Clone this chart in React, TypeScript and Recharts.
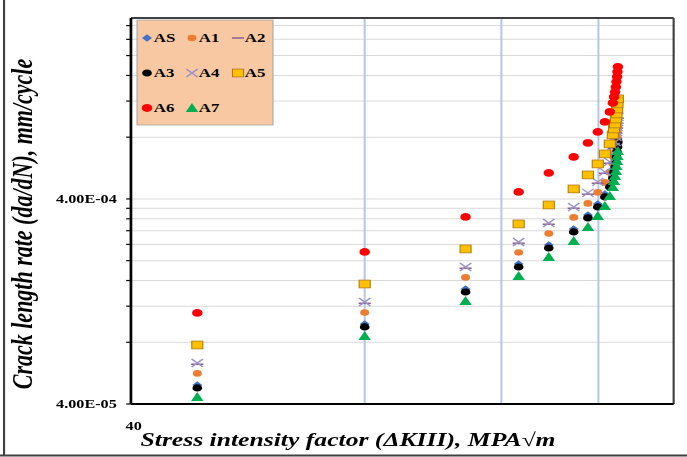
import {
  CartesianGrid,
  ReferenceLine,
  Scatter,
  ScatterChart,
  XAxis,
  YAxis,
} from "recharts";

// stress intensity factor, MPa√m (shared by all specimens)
const KIII = [48.7, 80.0, 107.9, 126.3, 138.1, 148.7, 155.1, 159.7, 163.1, 165.5, 167.0, 167.6, 168.1, 168.5, 168.8, 169.1, 169.3, 169.5];

// crack growth rate da/dN, mm/cycle
const AS = [4.95e-5, 9.82e-5, 1.456e-4, 1.928e-4, 2.386e-4, 2.856e-4, 3.343e-4, 3.782e-4, 4.232e-4, 4.735e-4, 5.239e-4, 5.604e-4, 5.927e-4, 6.268e-4, 6.633e-4, 7.017e-4, 7.422e-4, 7.85e-4];
const A1 = [5.64e-5, 1.118e-4, 1.657e-4, 2.193e-4, 2.715e-4, 3.25e-4, 3.804e-4, 4.304e-4, 4.816e-4, 5.388e-4, 5.961e-4, 6.377e-4, 6.742e-4, 7.132e-4, 7.546e-4, 7.982e-4, 8.445e-4, 8.931e-4];
const A2 = [6.25e-5, 1.239e-4, 1.837e-4, 2.432e-4, 3.01e-4, 3.603e-4, 4.218e-4, 4.771e-4, 5.339e-4, 5.974e-4, 6.609e-4, 7.07e-4, 7.475e-4, 7.907e-4, 8.368e-4, 8.852e-4, 9.363e-4, 9.902e-4];
const A3 = [4.79e-5, 9.5e-5, 1.407e-4, 1.863e-4, 2.306e-4, 2.761e-4, 3.232e-4, 3.656e-4, 4.091e-4, 4.577e-4, 5.064e-4, 5.417e-4, 5.729e-4, 6.059e-4, 6.412e-4, 6.782e-4, 7.174e-4, 7.587e-4];
const A4 = [6.34e-5, 1.258e-4, 1.864e-4, 2.468e-4, 3.055e-4, 3.657e-4, 4.281e-4, 4.843e-4, 5.419e-4, 6.063e-4, 6.708e-4, 7.176e-4, 7.586e-4, 8.026e-4, 8.493e-4, 8.984e-4, 9.503e-4, 1.005e-3];
const A5 = [7.76e-5, 1.539e-4, 2.281e-4, 3.02e-4, 3.738e-4, 4.475e-4, 5.238e-4, 5.926e-4, 6.631e-4, 7.42e-4, 8.208e-4, 8.781e-4, 9.283e-4, 9.821e-4, 1.039e-3, 1.099e-3, 1.163e-3, 1.23e-3];
const A6 = [1.112e-4, 2.205e-4, 3.268e-4, 4.327e-4, 5.356e-4, 6.411e-4, 7.505e-4, 8.49e-4, 9.5e-4, 1.063e-3, 1.176e-3, 1.258e-3, 1.33e-3, 1.407e-3, 1.489e-3, 1.575e-3, 1.666e-3, 1.762e-3];
const A7 = [4.33e-5, 8.58e-5, 1.272e-4, 1.684e-4, 2.085e-4, 2.495e-4, 2.921e-4, 3.304e-4, 3.697e-4, 4.137e-4, 4.577e-4, 4.896e-4, 5.178e-4, 5.476e-4, 5.795e-4, 6.13e-4, 6.484e-4, 6.858e-4];

const X_DOMAIN = [40, 200];
const X_TICKS = [40, 80, 120, 160, 200];
const X_LABELED = [40];
const X_GRID = [80, 120, 160];
const Y_DOMAIN = [4e-5, 3.05e-3];
const Y_TICKS = [4e-5, 8e-5, 1.2e-4, 1.6e-4, 2e-4, 2.4e-4, 2.8e-4, 3.2e-4, 3.6e-4, 4e-4, 8e-4, 1.2e-3, 1.6e-3, 2e-3, 2.4e-3, 2.8e-3];
const Y_LABELED = [4e-5, 4e-4];

// the source image is stretched horizontally, so draw narrow and scale
const SX = 1.35;
const W = 509;
const H = 457;
const FONT = "'Liberation Serif', 'Times New Roman', serif";

const pts = (ys: number[]) => KIII.map((x, i) => ({ x, y: ys[i] }));

const sci = (v: number) => {
  const [m, e] = v.toExponential(2).split("e");
  const n = parseInt(e, 10);
  return `${m}E${n < 0 ? "-" : "+"}${String(Math.abs(n)).padStart(2, "0")}`;
};

type P = { cx: number; cy: number };
const Diamond = ({ cx, cy }: P) => (
  <polygon points={`${cx},${cy - 3.7} ${cx + 3.7},${cy} ${cx},${cy + 3.7} ${cx - 3.7},${cy}`} fill="#4472C4" />
);
const Orange = ({ cx, cy }: P) => <circle cx={cx} cy={cy} r={3.3} fill="#ED7D31" />;
const Dash = ({ cx, cy }: P) => (
  <line x1={cx - 4.5} y1={cy} x2={cx + 4.5} y2={cy} stroke="#8E5E8E" strokeWidth={1.5} />
);
const Black = ({ cx, cy }: P) => <circle cx={cx} cy={cy} r={3.6} fill="#000" />;
const Cross = ({ cx, cy }: P) => (
  <g stroke="#9C93C4" strokeWidth={1.3}>
    <line x1={cx - 4.2} y1={cy - 4} x2={cx + 4.2} y2={cy + 4} />
    <line x1={cx - 4.2} y1={cy + 4} x2={cx + 4.2} y2={cy - 4} />
  </g>
);
const Square = ({ cx, cy }: P) => (
  <rect x={cx - 4.1} y={cy - 3.9} width={8.2} height={7.8} fill="#FFC000" stroke="#B07A10" strokeWidth={0.8} />
);
const Red = ({ cx, cy }: P) => <circle cx={cx} cy={cy} r={3.9} fill="#FF0000" />;
const Tri = ({ cx, cy }: P) => (
  <polygon points={`${cx},${cy - 5} ${cx + 4.6},${cy + 4} ${cx - 4.6},${cy + 4}`} fill="#00B050" />
);

const SERIES = [
  { name: "AS", data: AS, M: Diamond },
  { name: "A1", data: A1, M: Orange },
  { name: "A2", data: A2, M: Dash },
  { name: "A3", data: A3, M: Black },
  { name: "A4", data: A4, M: Cross },
  { name: "A5", data: A5, M: Square },
  { name: "A6", data: A6, M: Red },
  { name: "A7", data: A7, M: Tri },
];

const LEGEND_POS = [
  [108.9, 38], [142.2, 38], [176.3, 38],
  [108.9, 73], [142.2, 73], [176.3, 73],
  [108.9, 108], [142.2, 108],
];

const YTick = ({ x, y, payload }: any) =>
  Y_LABELED.includes(payload.value) ? (
    <text x={x} y={y} dy={4} textAnchor="end" fontFamily={FONT} fontWeight="bold" fontSize={12} fill="#000">
      {sci(payload.value)}
    </text>
  ) : (
    <g />
  );

const XTick = ({ x, y, payload }: any) =>
  X_LABELED.includes(payload.value) ? (
    <text x={x + 2} y={y + 26} textAnchor="middle" fontFamily={FONT} fontWeight="bold" fontSize={12} fill="#000">
      {payload.value}
    </text>
  ) : (
    <g />
  );

export default function App() {
  return (
    <div style={{ position: "absolute", left: 0, top: 0, width: 687, height: 457, background: "#fff", overflow: "hidden" }}>
      <div style={{ position: "relative", width: W, height: H, transform: `scaleX(${SX})`, transformOrigin: "0 0" }}>
        <ScatterChart width={W} height={H} margin={{ top: 18, right: 10, bottom: 23, left: 0 }}>
          <CartesianGrid vertical={false} stroke="#d9d9d9" />
          {X_GRID.map((g) => (
            <ReferenceLine key={g} x={g} stroke="#b4c7e7" strokeWidth={1.5} />
          ))}
          <ReferenceLine y={Y_DOMAIN[1]} stroke="#404040" strokeWidth={2} />
          <ReferenceLine x={X_DOMAIN[1]} stroke="#404040" strokeWidth={1.6} />
          <XAxis
            type="number"
            dataKey="x"
            scale="log"
            domain={X_DOMAIN}
            allowDataOverflow
            ticks={X_TICKS}
            interval={0}
            tick={<XTick />}
            tickLine={false}
            tickSize={0}
            tickMargin={0}
            height={30}
            axisLine={{ stroke: "#000", strokeWidth: 2 }}
          />
          <YAxis
            type="number"
            dataKey="y"
            scale="log"
            domain={Y_DOMAIN}
            allowDataOverflow
            ticks={Y_TICKS}
            interval={0}
            tick={<YTick />}
            tickSize={3.5}
            tickMargin={7}
            tickLine={{ stroke: "#000", strokeWidth: 1.2 }}
            width={97}
            axisLine={{ stroke: "#000", strokeWidth: 2 }}
          />
          {SERIES.map(({ name, data, M }) => (
            <Scatter
              key={name}
              name={name}
              data={pts(data)}
              isAnimationActive={false}
              shape={(p: any) => <M cx={p.cx} cy={p.cy} />}
            />
          ))}
        </ScatterChart>

        <svg width={W} height={H} style={{ position: "absolute", left: 0, top: 0, pointerEvents: "none" }}>
          <line x1={3} y1={0} x2={3} y2={456} stroke="#404040" strokeWidth={1.6} />
          <line x1={0} y1={455.5} x2={W} y2={455.5} stroke="#404040" strokeWidth={2} />
          <rect x={101.5} y={20} width={100.7} height={105} fill="#F8C8A2" stroke="#a6a6a6" strokeWidth={0.8} />
          {SERIES.map(({ name, M }, i) => {
            const [lx, ly] = LEGEND_POS[i];
            return (
              <g key={name}>
                <M cx={lx} cy={ly} />
                <text x={lx + 5} y={ly + 4.5} fontFamily={FONT} fontWeight="bold" fontSize={12.5} fill="#000">
                  {name}
                </text>
              </g>
            );
          })}
          <text
            transform="translate(18.5,224) rotate(-90)"
            textAnchor="middle"
            dominantBaseline="middle"
            fontFamily={FONT}
            fontWeight="bold"
            fontStyle="italic"
            fontSize={22}
            fill="#000"
          >
            Crack length rate (da/dN), mm/cycle
          </text>
          <text x={257.8} y={446} textAnchor="middle" fontFamily={FONT} fontWeight="bold" fontStyle="italic" fontSize={19} fill="#000">
            Stress intensity factor (ΔKIII), MPA√m
          </text>
        </svg>
      </div>
    </div>
  );
}
